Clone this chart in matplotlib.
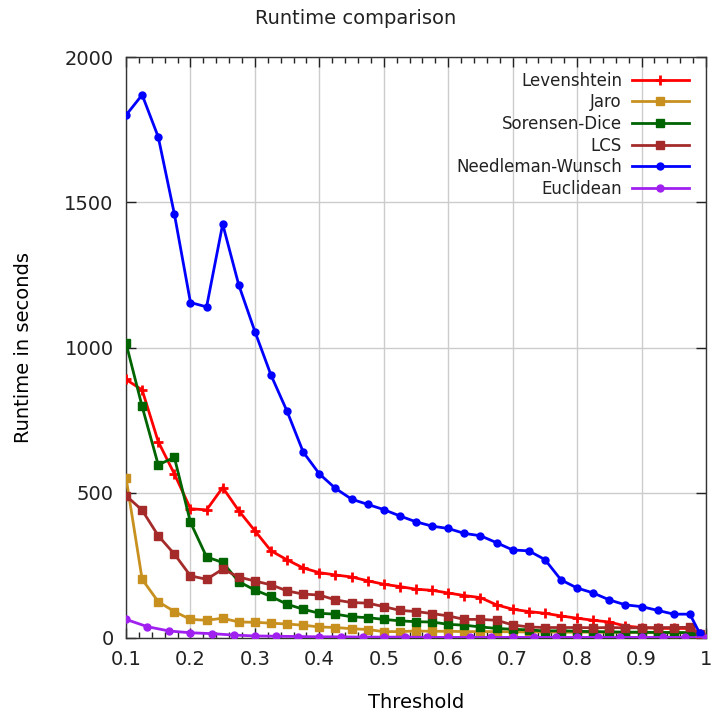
import matplotlib
matplotlib.use("Agg")
import matplotlib.pyplot as plt
from matplotlib.ticker import MultipleLocator

plt.rcParams.update({
    "font.family": "DejaVu Sans",
    "font.size": 14,
    "text.color": "#222222",
})

# Thresholds used by the string metrics
thresholds = [0.1, 0.125, 0.15, 0.175, 0.2, 0.225, 0.25, 0.275, 0.3, 0.325,
              0.35, 0.375, 0.4, 0.425, 0.45, 0.475, 0.5, 0.525, 0.55, 0.575,
              0.6, 0.625, 0.65, 0.675, 0.7, 0.725, 0.75, 0.775, 0.8, 0.825,
              0.85, 0.875, 0.9, 0.925, 0.95, 0.975, 0.99]
# Euclidean was sampled on a coarser grid
thresholds_euc = [0.1, 0.133, 0.167, 0.2, 0.233, 0.267, 0.3, 0.333, 0.367,
                  0.4, 0.433, 0.467, 0.5, 0.533, 0.567, 0.6, 0.633, 0.667,
                  0.7, 0.733, 0.767, 0.8, 0.833, 0.867, 0.9, 0.933, 0.967, 1.0]

levenshtein = [890, 854, 676, 565, 445, 441, 518, 438, 369, 300, 269, 241, 225,
               217, 210, 197, 185, 177, 168, 164, 155, 146, 139, 114, 99, 91,
               85, 76, 68, 61, 55, 41, 36, 33, 33, 33, 14]
jaro = [552, 202, 125, 91, 64, 61, 68, 55, 54, 51, 48, 44, 38, 36, 32, 29, 22,
        22, 24, 23, 23, 22, 22, 22, 21, 21, 21, 20, 20, 20, 20, 19, 19, 19,
        18, 18, 6]
sorensen = [1015, 797, 596, 622, 398, 279, 260, 194, 165, 143, 116, 99, 85, 82,
            73, 70, 64, 59, 56, 55, 47, 44, 38, 33, 30, 28, 24, 25, 23, 22, 21,
            20, 20, 19, 19, 18, 8]
lcs = [490, 440, 352, 289, 214, 202, 237, 210, 196, 183, 162, 151, 148, 131,
       122, 120, 108, 95, 91, 84, 76, 64, 64, 61, 45, 38, 36, 36, 36, 35, 36,
       35, 35, 36, 36, 37, 12]
needleman = [1800, 1870, 1725, 1460, 1155, 1140, 1425, 1215, 1055, 905, 780,
             640, 565, 515, 478, 460, 442, 420, 400, 385, 377, 360, 352, 328,
             303, 300, 270, 200, 172, 155, 131, 114, 108, 95, 82, 82, 17]
euclidean = [64, 39, 24, 18, 15, 10, 7, 6, 5, 4, 4, 3, 3, 3, 2, 2, 2, 2, 2, 2,
             2, 2, 2, 2, 2, 2, 2, 1]

fig = plt.figure(figsize=(7.12, 7.11), dpi=100)
ax = fig.add_axes([0.177, 0.1027, 0.8146, 0.817])

lw = 2.0
ax.plot(thresholds, levenshtein, color="#FF0000", lw=lw, marker="+",
        ms=6.5, mew=2, label="Levenshtein", zorder=3)
ax.plot(thresholds, jaro, color="#C8901E", lw=lw, marker="s", ms=5.5,
        label="Jaro", zorder=3)
ax.plot(thresholds, sorensen, color="#006400", lw=lw, marker="s", ms=5.5,
        label="Sorensen-Dice", zorder=3)
ax.plot(thresholds, lcs, color="#A52A2A", lw=lw, marker="s", ms=5.5,
        label="LCS", zorder=3)
ax.plot(thresholds, needleman, color="#0000FF", lw=lw, marker="o", ms=5,
        label="Needleman-Wunsch", zorder=3)
ax.plot(thresholds_euc, euclidean, color="#A020F0", lw=lw, marker="o", ms=5,
        label="Euclidean", zorder=3)

ax.set_xlim(0.1, 1.0)
ax.set_ylim(0, 2000)
ax.xaxis.set_minor_locator(MultipleLocator(0.02))
ax.yaxis.set_major_locator(MultipleLocator(500))
ax.set_xticks([0.1, 0.2, 0.3, 0.4, 0.5, 0.6, 0.7, 0.8, 0.9, 1.0])
ax.set_xticklabels(["0.1", "0.2", "0.3", "0.4", "0.5", "0.6", "0.7", "0.8",
                    "0.9", "1"])
ax.tick_params(which="both", direction="in", top=True, right=True,
               colors="#222222", labelsize=14)
ax.tick_params(which="major", length=7, width=1, pad=9)
ax.tick_params(which="minor", length=4, width=1)
ax.grid(True, which="major", color="#CCCCCC", lw=1)
for s in ax.spines.values():
    s.set_linewidth(1)
    s.set_color("#333333")

ax.set_xlabel("Threshold", fontsize=14)
ax.set_ylabel("Runtime in seconds", fontsize=14)
ax.xaxis.set_label_coords(0.5, -0.095)
ax.yaxis.set_label_coords(-0.16, 0.5)
fig.text(0.5, 0.974, "Runtime comparison", ha="center", va="center",
         fontsize=14)

ax.legend(loc="upper right", bbox_to_anchor=(0.99, 0.995), frameon=False,
          markerfirst=False, fontsize=12, handlelength=3.4,
          labelspacing=0.22, handletextpad=0.6, borderpad=0.2)

fig.savefig("out.png", dpi=100)
